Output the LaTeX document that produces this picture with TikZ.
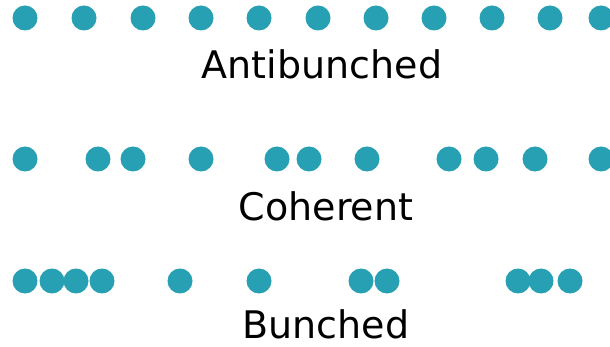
\documentclass[tikz,border=0pt]{standalone}
\usepackage{fontspec}
\setmainfont{DejaVu Sans}
\usetikzlibrary{positioning}
\definecolor{photon}{RGB}{38,160,178}

\begin{document}
\begin{tikzpicture}[x=1pt,y=-1pt,
		dot/.style={circle,fill=photon,inner sep=0pt,minimum size=25pt},
		caption/.style={anchor=base,font=\fontsize{38}{40}\selectfont}]
		\useasboundingbox (0,0) rectangle (610,347);
		% evenly spaced photons
		\foreach \x [count=\i] in {25,84,143,201,259,318,376,434,492,550,601}
			\node[dot] (a\i) at (\x,18) {};
		\node[caption] (anti) at (322,79) {Antibunched};
		% random arrival times
		\foreach \x [count=\i] in {25,98,133,201,277,309,367,449,486,535,601}
			\node[dot] (c\i) at (\x,159) {};
		\node[caption] (coh) at (326,221) {Coherent};
		% photons arriving in groups
		\foreach \x [count=\i] in {25,52,76,102,180,259,361,387,518,541,570}
			\node[dot] (b\i) at (\x,281) {};
		\node[caption,inner ysep=1pt] (bun) at (326,338) {Bunched};
	\end{tikzpicture}
\end{document}
